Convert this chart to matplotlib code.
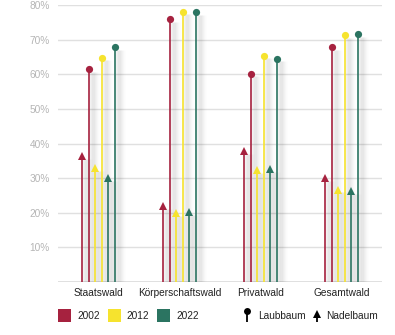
import numpy as np
import matplotlib
matplotlib.use("Agg")
import matplotlib.pyplot as plt
import matplotlib.transforms as mtransforms
from matplotlib.patches import Rectangle

plt.rcParams["font.family"] = ["Liberation Sans", "DejaVu Sans"]

# ── data (share in %) ───────────────────────────────────────────────
categories = ["Staatswald", "Körperschaftswald", "Privatwald", "Gesamtwald"]
years = ["2002", "2012", "2022"]
laub_2002 = [61.4, 76.0, 60.2, 67.8]
laub_2012 = [64.8, 78.1, 65.4, 71.3]
laub_2022 = [67.8, 77.9, 64.5, 71.7]
nadel_2002 = [36.4, 22.0, 37.7, 30.1]
nadel_2012 = [32.9, 19.9, 32.4, 26.7]
nadel_2022 = [30.1, 20.1, 32.7, 26.3]
y_ticks = [10, 20, 30, 40, 50, 60, 70, 80]

laub = [laub_2002, laub_2012, laub_2022]
nadel = [nadel_2002, nadel_2012, nadel_2022]

# ── style ───────────────────────────────────────────────────────────
RED = "#A6223F"
YELLOW = "#F6E32E"
GREEN = "#2B7461"
COLORS = [RED, YELLOW, GREEN]
GRID = "#E0E0E0"
TICK_GREY = "#B5B5B5"
INK = "#222222"

W, H, DPI = 395, 335, 100
fig = plt.figure(figsize=(W / DPI, H / DPI), dpi=DPI)
ax = fig.add_axes([58 / W, 1 - 282 / H, (382 - 58) / W, (282 - 5) / H])
ax.set_xlim(0, 4)
ax.set_ylim(0, 80)

STEP = 0.0823  # spacing between stems, data units
LW = 1.2


def shadow(x, top):
    # soft grey drop shadow to the right of each stem
    for px in range(0, 11):
        a = 0.07 * np.exp(-((px - 4) ** 2) / (2 * 2.6 ** 2))
        tr = ax.transData + mtransforms.ScaledTranslation(px / DPI, 0, fig.dpi_scale_trans)
        ax.plot([x, x], [0, top - 0.8], color="black", lw=1.0, alpha=a,
                transform=tr, zorder=1, solid_capstyle="butt")


for i, cat in enumerate(categories):
    center = i + 0.5
    for j in range(3):
        xn = center + (2 * j - 2.5) * STEP
        xl = center + (2 * j - 1.5) * STEP
        shadow(xn, nadel[j][i])
        shadow(xl, laub[j][i])

for i, cat in enumerate(categories):
    center = i + 0.5
    for j, c in enumerate(COLORS):
        xn = center + (2 * j - 2.5) * STEP
        xl = center + (2 * j - 1.5) * STEP
        ax.plot([xn, xn], [0, nadel[j][i]], color=c, lw=LW, zorder=3,
                solid_capstyle="butt")
        ax.plot([xn], [nadel[j][i]], marker="^", ms=6.4, color=c, mec=c,
                mew=0, zorder=4, clip_on=False)
        ax.plot([xl, xl], [0, laub[j][i]], color=c, lw=LW, zorder=3,
                solid_capstyle="butt")
        ax.plot([xl], [laub[j][i]], marker="o", ms=5.2, color=c, mec=c,
                mew=0, zorder=4, clip_on=False)

# grid + axes
for v in y_ticks:
    ax.axhline(v, color=GRID, lw=1.0, zorder=0)
ax.axhline(0, color=GRID, lw=1.4, zorder=0)
for s in ax.spines.values():
    s.set_visible(False)
ax.set_yticks(y_ticks)
ax.set_yticklabels([f"{v}%" for v in y_ticks], color=TICK_GREY, fontsize=7.3)
ax.set_xticks([i + 0.5 for i in range(len(categories))])
ax.set_xticklabels(categories, color=INK, fontsize=7.3)
ax.tick_params(axis="y", length=0, pad=6)
ax.tick_params(axis="x", length=0, pad=4)

# ── legend (pixel overlay) ──────────────────────────────────────────
lg = fig.add_axes([0, 0, 1, 1], zorder=5)
lg.set_xlim(0, W)
lg.set_ylim(H, 0)
lg.axis("off")
lg.patch.set_alpha(0)

for k, (yr, c) in enumerate(zip(years, COLORS)):
    x0 = 58 + k * 49.5
    lg.add_patch(Rectangle((x0, 309), 13, 13, color=c, lw=0))
    lg.text(x0 + 19, 315.8, yr, fontsize=7.3, color=INK, va="center", ha="left")

# Laubbaum icon
lg.plot([247, 247], [311, 322], color="black", lw=1.3, solid_capstyle="butt")
lg.plot([247], [311], marker="o", ms=5.0, color="black", mew=0)
lg.text(258, 315.8, "Laubbaum", fontsize=7.3, color=INK, va="center", ha="left")
# Nadelbaum icon
lg.plot([316.5, 316.5], [315, 322], color="black", lw=1.3, solid_capstyle="butt")
lg.plot([316.5], [313.5], marker="^", ms=6.4, color="black", mew=0)
lg.text(326, 315.8, "Nadelbaum", fontsize=7.3, color=INK, va="center", ha="left")

fig.savefig("out.png", dpi=DPI, facecolor="white")
